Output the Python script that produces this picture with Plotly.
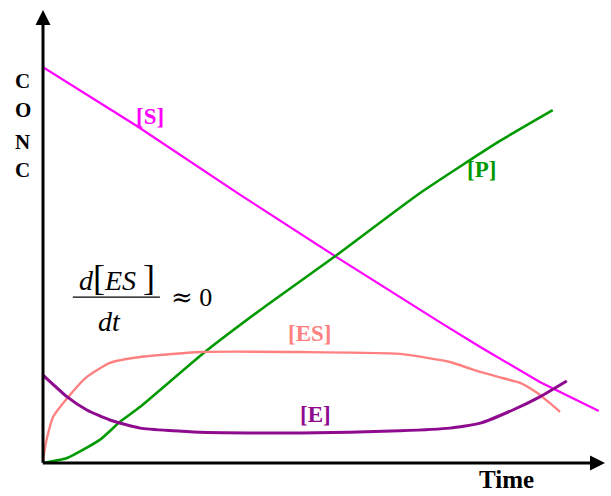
import plotly.graph_objects as go

# Time grid (arbitrary units, 0-100) and concentration values for each species
t_s = [0, 16.7, 35.1, 52.8, 70.6, 77.8, 88.4, 98.9]
conc_s = [87.4, 74.4, 59.2, 45.0, 31.1, 25.6, 17.9, 11.5]

t_p = [0, 4.3, 10.1, 13.7, 17.3, 28.8, 40.0, 51.6, 67.1, 81.3, 90.7]
conc_p = [0, 1.1, 5.1, 9.1, 12.4, 24.5, 35.0, 45.3, 59.6, 71.1, 77.9]

t_es = [0, 0.3, 0.8, 1.8, 4.3, 7.8, 11.9, 17.3, 27.9, 45.7, 63.5, 72.4, 77.8, 81.0, 84.9, 87.9, 90.2, 92.0]
conc_es = [0, 3.0, 6.0, 10.2, 14.3, 19.0, 22.1, 23.4, 24.5, 24.5, 24.1, 22.3, 20.1, 19.0, 17.7, 15.5, 13.2, 11.3]

t_e = [0, 4.3, 7.8, 11.9, 17.3, 27.9, 45.7, 63.5, 72.4, 77.8, 83.6, 88.4, 93.2]
conc_e = [19.4, 14.6, 11.7, 9.5, 7.7, 6.8, 6.6, 7.1, 7.7, 8.8, 11.7, 14.6, 18.1]

series = [
    ("[S]", t_s, conc_s, "#ff00ff", 2.2, "linear"),
    ("[P]", t_p, conc_p, "#009a00", 2.6, "spline"),
    ("[ES]", t_es, conc_es, "#ff8080", 2.4, "spline"),
    ("[E]", t_e, conc_e, "#8e0a8e", 3.0, "spline"),
]

# Label positions (time, conc) for the curve names
label_pos = {"[S]": (19.0, 76.4), "[P]": (78.1, 64.9), "[ES]": (47.5, 28.5), "[E]": (48.4, 10.6)}

# Plot area in pixels, used to place text that sits outside the data range
L, R, T, B = 43, 6, 10, 33
W, H = 611, 496
PW, PH = W - L - R, H - T - B


def px_to_paper(px, py):
    return (px - L) / PW, (H - B - py) / PH


fig = go.Figure()
for name, t, c, color, w, shape in series:
    fig.add_trace(go.Scatter(x=t, y=c, mode="lines", name=name,
                             line=dict(color=color, width=w, shape=shape, smoothing=0.5),
                             showlegend=False, hoverinfo="skip"))

serif = "Liberation Serif"
annotations = []
for name, t, c, color, w, shape in series:
    lx, ly = label_pos[name]
    annotations.append(dict(x=lx, y=ly, xref="x", yref="y", text=f"<b>{name}</b>",
                            xanchor="center", yanchor="middle",
                            showarrow=False, font=dict(family=serif, size=23, color=color)))

# Axis arrows
annotations.append(dict(x=0, y=100, ax=0, ay=-0.3, xref="x", yref="y", axref="x", ayref="y",
                        text="", showarrow=True, arrowhead=2, arrowsize=1, arrowwidth=3,
                        arrowcolor="black"))
annotations.append(dict(x=100, y=0, ax=-0.3, ay=0, xref="x", yref="y", axref="x", ayref="y",
                        text="", showarrow=True, arrowhead=2, arrowsize=1, arrowwidth=3,
                        arrowcolor="black"))

# Vertical "CONC" label, one letter per line
for letter, py in zip("CONC", [81, 110, 142, 170]):
    x, y = px_to_paper(23, py)
    annotations.append(dict(x=x, y=y, xref="paper", yref="paper", text=f"<b>{letter}</b>",
                            xanchor="center", yanchor="middle",
                            showarrow=False, font=dict(family=serif, size=21, color="black")))

x, y = px_to_paper(506, 479)
annotations.append(dict(x=x, y=y, xref="paper", yref="paper", text="<b>Time</b>",
                        xanchor="center", yanchor="middle",
                        showarrow=False, font=dict(family=serif, size=25, color="black")))

# Steady-state expression d[ES]/dt ≈ 0
annotations.append(dict(x=13.2, y=40.8, xref="x", yref="y",
                        xanchor="center", yanchor="middle",
                        text="<i>d</i><span style='font-size:36px'>[</span><i>ES</i> <span style='font-size:36px'>]</span>",
                        showarrow=False, font=dict(family=serif, size=28, color="black")))
annotations.append(dict(x=11.9, y=31.2, xref="x", yref="y", text="<i>dt</i>",
                        xanchor="center", yanchor="middle",
                        showarrow=False, font=dict(family=serif, size=28, color="black")))
annotations.append(dict(x=26.4, y=36.6, xref="x", yref="y",
                        xanchor="center", yanchor="middle",
                        text="<span style='font-family:DejaVu Serif'>≈</span> 0",
                        showarrow=False, font=dict(family=serif, size=26, color="black")))

fig.add_shape(type="line", x0=5.3, x1=20.8, y0=36.6, y1=36.6, xref="x", yref="y",
              line=dict(color="black", width=1.3))

fig.update_layout(
    width=W, height=H,
    margin=dict(l=L, r=R, t=T, b=B),
    paper_bgcolor="white", plot_bgcolor="white",
    xaxis=dict(range=[0, 100], visible=False, fixedrange=True),
    yaxis=dict(range=[0, 100], visible=False, fixedrange=True),
    annotations=annotations,
)

fig.write_html("out.html")
